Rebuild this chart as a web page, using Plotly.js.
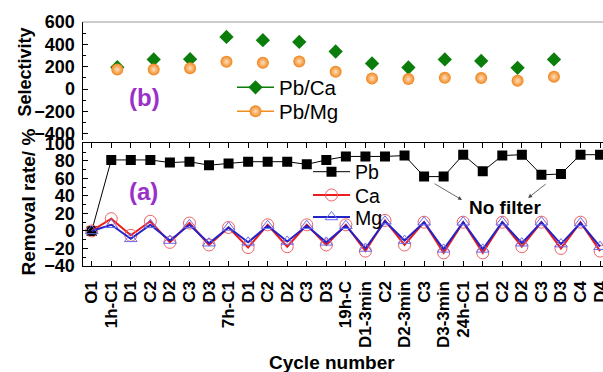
<!DOCTYPE html>
<html>
<head>
<meta charset="utf-8">
<script src="https://cdn.plot.ly/plotly-3.0.1.min.js"></script>
<style>html,body{margin:0;padding:0;background:#fff;}#chart{width:603px;height:372px;}</style>
</head>
<body>
<div id="chart"></div>
<script>
// ---- data ----
const cycleLabels = ['O1','1h-C1','D1','C2','D2','C3','D3','7h-C1','D1','C2','D2','C3','D3','19h-C','D1-3min','C2','D2-3min','C3','D3-3min','24h-C1','D1','C2','D2','C3','D3','C4','D4'];
const pbRemoval = [0,81,81,81,78,79,75,77,79,79,79,76,81,85,85,85,86,62,62,87,68,86,87,64,65,87,87];
const caRemoval = [0,14,-5,11,-13,9,-16,4,-19,7,-18,7,-16,7,-23,12,-16,10,-25,10,-25,10,-18,10,-20,10,-23];
const mgRemoval = [0,7,-9,7,-11,7,-14,4,-13,6,-12,6,-13,6,-20,11,-11,10,-21,10,-21,10,-14,10,-15,9,-18];
const selPbCa = [195,265,267,466,437,422,336,229,193,265,252,190,265];
const selPbMg = [175,175,187,244,235,247,154,95,89,101,98,74,110];

const idx = cycleLabels.map((_, i) => i);
// isolate selectivity points (markers only, legend keeps line sample)
function isolated(vals) {
  const x = [], y = [];
  vals.forEach((v, i) => { x.push(i, null); y.push(v, null); });
  return {x, y};
}
const sCa = isolated(selPbCa), sMg = isolated(selPbMg);

const FF = 'Liberation Sans, Arial, sans-serif';
const bold = (s, c) => ({family: FF, size: s, color: c || '#000', weight: 'bold'});

const traces = [
  {x: idx, y: pbRemoval, name: 'Pb', mode: 'lines+markers', xaxis: 'x', yaxis: 'y', legend: 'legend',
   line: {color: '#000', width: 1}, marker: {symbol: 'square', size: 10, color: '#000'}},
  {x: idx, y: caRemoval, name: 'Ca', mode: 'lines+markers', xaxis: 'x', yaxis: 'y', legend: 'legend3',
   line: {color: '#ee1c1c', width: 2}, marker: {symbol: 'circle-open', size: 12, color: '#f06262', line: {width: 1}}},
  {x: idx, y: mgRemoval, name: 'Mg', mode: 'lines+markers', xaxis: 'x', yaxis: 'y', legend: 'legend4',
   line: {color: '#2323c8', width: 2}, marker: {symbol: 'triangle-up-open', size: 11, color: '#6a6aee', line: {width: 1}}},
  {x: sCa.x, y: sCa.y, name: 'Pb/Ca', mode: 'lines+markers', xaxis: 'x3', yaxis: 'y2', legend: 'legend2', connectgaps: false,
   line: {color: '#0b7d0b', width: 1.5}, marker: {symbol: 'diamond', size: 11, color: '#0b7d0b'}},
  {x: sMg.x, y: sMg.y, name: 'Pb/Mg', mode: 'lines+markers', xaxis: 'x3', yaxis: 'y2', legend: 'legend5', connectgaps: false,
   line: {color: '#f28a1e', width: 1.5}, marker: {symbol: 'circle', size: 12, color: '#f0841a', gradient: {type: 'radial', color: '#fde0bd'}}}
];

const W = 603, H = 372;
const xl = 82.7 / W;
const axBase = {showgrid: false, zeroline: false, showline: true, linecolor: '#000', linewidth: 1.2, ticks: 'inside', tickcolor: '#000', ticklen: 5, tickwidth: 1};

// legend box helper: (left px, top px, font size)
const leg = (lx, ty, fs) => ({x: lx / W, y: 1 - ty / H, xanchor: 'left', yanchor: 'top', bgcolor: 'rgba(0,0,0,0)',
  font: {family: FF, size: fs, color: '#000'}, tracegroupgap: 0, itemwidth: 37});

const ann = (x, y, text, font, extra) => Object.assign({xref: 'paper', yref: 'paper', x: x / W, y: 1 - y / H,
  xanchor: 'center', yanchor: 'middle', text: text, showarrow: false, font: font}, extra || {});

const layout = {
  width: W, height: H,
  margin: {l: 0, r: 0, t: 0, b: 0},
  paper_bgcolor: '#fff', plot_bgcolor: 'rgba(0,0,0,0)',
  showlegend: true,
  xaxis: Object.assign({}, axBase, {domain: [xl, 1], anchor: 'y', range: [-0.46, 26.15],
    tickmode: 'array', tickvals: idx, ticktext: cycleLabels, tickangle: -90, mirror: 'ticks',
    tickfont: bold(17), ticklabelstandoff: 7, ticklabeloverflow: 'allow'}),
  yaxis: Object.assign({}, axBase, {domain: [1 - 266 / H, 1 - 143.3 / H], anchor: 'x', range: [-40, 100],
    dtick: 20, tick0: 0, tickfont: bold(18), ticklabelstandoff: 3,
    minor: {ticks: 'inside', dtick: 10, ticklen: 3, tickcolor: '#000'}}),
  xaxis2: Object.assign({}, axBase, {domain: [xl, 1], anchor: 'y2', range: [-0.46, 26.15],
    tickmode: 'array', tickvals: idx, showticklabels: false}),
  yaxis2: Object.assign({}, axBase, {domain: [1 - 140 / H, 1 - 22 / H], anchor: 'x2', range: [-456, 600],
    dtick: 200, tick0: 0, tickfont: bold(18), ticklabelstandoff: 3,
    minor: {ticks: 'inside', dtick: 100, ticklen: 3, tickcolor: '#000'}}),
  xaxis3: {domain: [xl, 1], overlaying: 'x2', anchor: 'y2', range: [-0.951, 13.347], visible: false, showgrid: false, zeroline: false},
  legend: leg(308, 152.5, 19.5),
  legend3: leg(308, 175.8, 19.5),
  legend4: leg(308, 197.8, 19.5),
  legend2: leg(232, 67.5, 20.5),
  legend5: leg(232, 91.5, 20.5),
  shapes: [
    {type: 'line', xref: 'paper', yref: 'paper', x0: xl, x1: 1, y0: 1 - 22 / H, y1: 1 - 22 / H, line: {color: '#999', width: 1.2}}
  ],
  annotations: [
    ann(144, 97, '(b)', bold(24, '#9b30c9')),
    ann(143.5, 191, '(a)', bold(24, '#9b30c9')),
    ann(505, 208, 'No filter', bold(19)),
    {xref: 'x', yref: 'y', axref: 'x', ayref: 'y', x: 18.94, y: 35.4, ax: 17.46, ay: 54.9, text: '', showarrow: true,
     arrowhead: 2, arrowsize: 1, arrowwidth: 0.8, arrowcolor: '#444'},
    {xref: 'x', yref: 'y', axref: 'x', ayref: 'y', x: 22.32, y: 37.7, ax: 23.3, ay: 54.9, text: '', showarrow: true,
     arrowhead: 2, arrowsize: 1, arrowwidth: 0.8, arrowcolor: '#444'},
    ann(25, 72.5, 'Selectivity', bold(18), {textangle: -90}),
    ann(28, 202.5, 'Removal rate/ %', bold(19), {textangle: -90}),
    ann(332, 362, 'Cycle number', bold(19))
  ]
};

Plotly.newPlot('chart', traces, layout, {staticPlot: true, displayModeBar: false});
</script>
</body>
</html>
